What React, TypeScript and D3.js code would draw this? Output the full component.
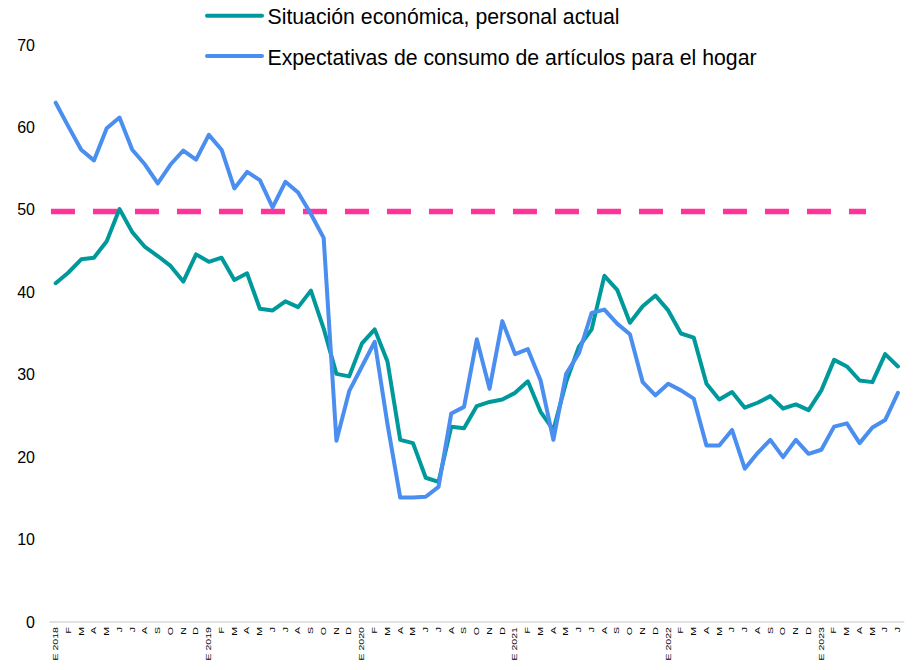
import React from "react";
import * as d3 from "d3";

// Monthly index values, January 2018 – July 2023
const situacionEconomica: number[] = [
  41.1, 42.4, 44.0, 44.2, 46.2, 50.1, 47.3, 45.5, 44.4, 43.2, 41.3, 44.6,
  43.7, 44.2, 41.5, 42.3, 38.0, 37.8, 38.9, 38.2, 40.2, 35.6, 30.1, 29.8,
  33.8, 35.5, 31.6, 22.1, 21.7, 17.5, 17.0, 23.7, 23.5, 26.2, 26.7, 27.0,
  27.8, 29.2, 25.5, 23.3, 29.1, 33.4, 35.5, 42.0, 40.3, 36.3, 38.3, 39.6,
  37.8, 35.0, 34.5, 28.9, 27.0, 27.9, 26.0, 26.6, 27.4, 25.9, 26.4, 25.7,
  28.1, 31.8, 31.0, 29.3, 29.1, 32.5, 31.0,
];

const expectativasConsumo: number[] = [
  63.0, 60.1, 57.3, 56.0, 59.9, 61.2, 57.3, 55.5, 53.2, 55.5, 57.2, 56.1,
  59.1, 57.3, 52.6, 54.6, 53.6, 50.3, 53.4, 52.1, 49.5, 46.6, 22.0, 28.0,
  31.0, 34.0, 24.0, 15.1, 15.1, 15.2, 16.4, 25.3, 26.1, 34.3, 28.3, 36.5,
  32.5, 33.1, 29.3, 22.1, 30.1, 32.6, 37.5, 37.9, 36.2, 34.9, 29.1, 27.5,
  28.9, 28.1, 27.1, 21.4, 21.4, 23.3, 18.6, 20.5, 22.1, 20.0, 22.1, 20.4,
  20.9, 23.7, 24.1, 21.7, 23.6, 24.5, 27.8,
];

const monthLetters: string[] = ["E", "F", "M", "A", "M", "J", "J", "A", "S", "O", "N", "D"];
const years: number[] = [2018, 2019, 2020, 2021, 2022, 2023];
const monthCount = 67;

const categoryLabels: string[] = d3.range(monthCount).map((i) => {
  const m = i % 12;
  return m === 0 ? `${monthLetters[m]} ${years[Math.floor(i / 12)]}` : monthLetters[m];
});

const yTicks: number[] = [0, 10, 20, 30, 40, 50, 60, 70];

// Threshold line: value and its extent in category-index units
const thresholdValue = 49.8;
const thresholdFrom = -0.37;
const thresholdTo = 63.5;

const seriesNames: string[] = [
  "Situación económica, personal actual",
  "Expectativas de consumo de artículos para el hogar",
];

const TEAL = "#00999b";
const BLUE = "#4a8ef0";
const PINK = "#ff3399";
const FONT = "'Liberation Sans', Arial, sans-serif";

export default function App() {
  const width = 914;
  const height = 670;
  const plotLeft = 49.3;
  const plotRight = 904.3;

  const x = d3
    .scaleLinear()
    .domain([-0.5, monthCount - 0.5])
    .range([plotLeft, plotRight]);
  const y = d3.scaleLinear().domain([0, 70]).range([622, 45]);

  const line = d3
    .line<number>()
    .x((_, i) => x(i))
    .y((d) => y(d))
    .curve(d3.curveLinear);

  const series = [
    { name: seriesNames[0], values: situacionEconomica, color: TEAL },
    { name: seriesNames[1], values: expectativasConsumo, color: BLUE },
  ];

  return (
    <div style={{ position: "absolute", left: 0, top: 0 }}>
      <svg width={width} height={height} style={{ display: "block", background: "#fff" }}>
        {/* y tick labels */}
        {yTicks.map((t) => (
          <text
            key={t}
            x={35}
            y={y(t)}
            dy="0.35em"
            textAnchor="end"
            fontFamily={FONT}
            fontSize={16}
            fill="#000"
          >
            {t}
          </text>
        ))}

        {/* category axis */}
        <line x1={plotLeft} x2={plotRight} y1={y(0)} y2={y(0)} stroke="#d9d9d9" strokeWidth={1.5} />
        {categoryLabels.map((lab, i) => (
          <text
            key={i}
            transform={`translate(${x(i)},627) rotate(-90) scale(1,0.62)`}
            dy="0.35em"
            textAnchor="end"
            fontFamily={FONT}
            fontSize={10.6}
            fill="#000"
          >
            {lab}
          </text>
        ))}

        {/* threshold */}
        <line
          x1={x(thresholdFrom)}
          x2={x(thresholdTo)}
          y1={y(thresholdValue)}
          y2={y(thresholdValue)}
          stroke={PINK}
          strokeWidth={5.5}
          strokeDasharray="24 18"
        />

        {/* series lines */}
        {series.map((s) => (
          <path
            key={s.name}
            d={line(s.values) ?? ""}
            fill="none"
            stroke={s.color}
            strokeWidth={4}
            strokeLinejoin="round"
            strokeLinecap="round"
          />
        ))}

        {/* legend */}
        {series.map((s, i) => (
          <g key={s.name} transform={`translate(0,${15.7 + i * 40.4})`}>
            <line x1={207} x2={262} y1={0} y2={0} stroke={s.color} strokeWidth={4} strokeLinecap="round" />
            <text x={267.5} y={8.4} fontFamily={FONT} fontSize={21.25} fill="#000">
              {s.name}
            </text>
          </g>
        ))}
      </svg>
    </div>
  );
}
